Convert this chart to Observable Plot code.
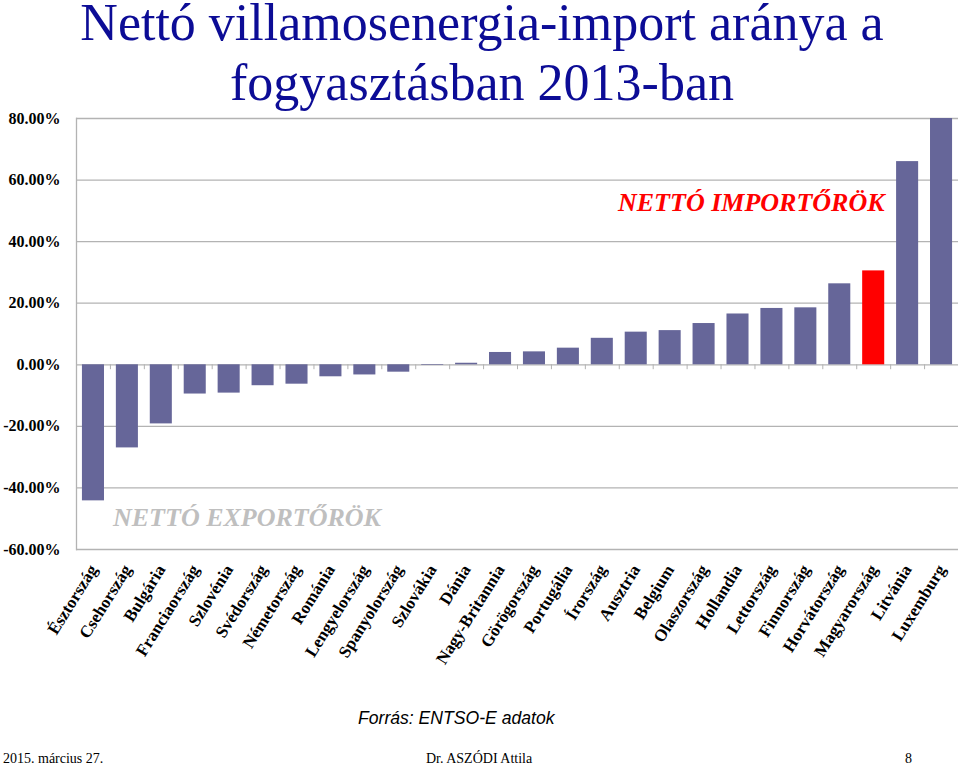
<!DOCTYPE html>
<html>
<head>
<meta charset="utf-8">
<script src="https://cdn.jsdelivr.net/npm/d3@7"></script>
<script src="https://cdn.jsdelivr.net/npm/@observablehq/plot@0.6"></script>
<style>
  body { margin: 0; background: #fff; }
  #page { position: relative; width: 960px; height: 766px; overflow: hidden; background: #fff; }
  #chart { position: absolute; left: 0; top: 0; }
  .t { position: absolute; white-space: nowrap; margin: 0; }
  .title { left: 0; width: 964px; text-align: center; font-family: "Liberation Serif", serif; font-size: 52px; line-height: 45px; color: #0c0c96; font-weight: normal; }
  #title1 { top: 0px; }
  #title2 { top: 60px; }
  .ann { font-family: "Liberation Serif", serif; font-size: 26px; line-height: 26px; font-weight: bold; font-style: italic; }
  #imp { left: 618px; top: 190px; color: #ff0000; }
  #exp { left: 113px; top: 505px; color: #bfbfbf; }
  #src { left: 358px; top: 710px; font-family: "Liberation Sans", sans-serif; font-style: italic; font-size: 17.6px; line-height: 17.6px; color: #000; }
  .foot { font-family: "Liberation Serif", serif; font-size: 14px; line-height: 14px; color: #000; top: 752px; }
  #date { left: 3px; }
  #auth { left: 426px; }
  #pg { left: 905px; }
</style>
</head>
<body>
<div id="page">
  <div id="chart"></div>
  <h1 class="t title" id="title1">Nettó villamosenergia-import aránya a</h1>
  <h1 class="t title" id="title2">fogyasztásban 2013-ban</h1>
  <div class="t ann" id="imp">NETTÓ IMPORTŐRÖK</div>
  <div class="t ann" id="exp">NETTÓ EXPORTŐRÖK</div>
  <div class="t" id="src">Forrás: ENTSO-E adatok</div>
  <div class="t foot" id="date">2015. március 27.</div>
  <div class="t foot" id="auth">Dr. ASZÓDI Attila</div>
  <div class="t foot" id="pg">8</div>
</div>
<script>
const countries = ["Észtország","Csehország","Bulgária","Franciaország","Szlovénia","Svédország","Németország","Románia","Lengyelország","Spanyolország","Szlovákia","Dánia","Nagy-Britannia","Görögország","Portugália","Írország","Ausztria","Belgium","Olaszország","Hollandia","Lettország","Finnország","Horvátország","Magyarország","Litvánia","Luxemburg"];
const values = [-44.2,-27.0,-19.2,-9.5,-9.2,-6.8,-6.3,-3.9,-3.3,-2.4,-0.2,0.5,4.0,4.2,5.4,8.6,10.6,11.1,13.4,16.5,18.3,18.5,26.3,30.5,66.0,80.0];
const highlight = "Magyarország";
const yTicks = [-60,-40,-20,0,20,40,60,80];

const data = countries.map((c, i) => ({country: c, value: values[i]}));

const W = 960, ML = 76, MR = 2;
const step = (W - ML - MR) / countries.length;
const serif = "'Liberation Serif', 'Times New Roman', serif";

const chart = Plot.plot({
  width: W,
  height: 680,
  marginTop: 118,
  marginLeft: ML,
  marginRight: MR,
  marginBottom: 131,
  style: {fontFamily: serif, color: "#000", background: "transparent"},
  x: {domain: countries, paddingInner: 0.35, paddingOuter: 0.175, round: false, label: null},
  y: {domain: [-60, 80], label: null},
  color: {type: "identity"},
  marks: [
    Plot.gridY(yTicks, {stroke: "#b3b3b3", strokeOpacity: 1, strokeWidth: 1.3}),
    Plot.frame({anchor: "left", stroke: "#b3b3b3", strokeWidth: 1.3}),
    Plot.ruleX(countries, {x: d => d, y1: 0, y2: -1.6, dx: -step / 2, stroke: "#b3b3b3"}),
    Plot.barY(data, {x: "country", y: "value", fill: d => d.country === highlight ? "#ff0000" : "#666699"}),
    Plot.axisY(yTicks, {tickSize: 0, tickPadding: 16, tickFormat: d => d.toFixed(2) + "%", fontFamily: serif, fontSize: 16, fontWeight: "bold", label: null}),
    Plot.axisX({tickRotate: -58, tickSize: 0, tickPadding: 17, fontFamily: serif, fontSize: 17, fontWeight: "bold", label: null})
  ]
});
document.getElementById("chart").appendChild(chart);
</script>
</body>
</html>
